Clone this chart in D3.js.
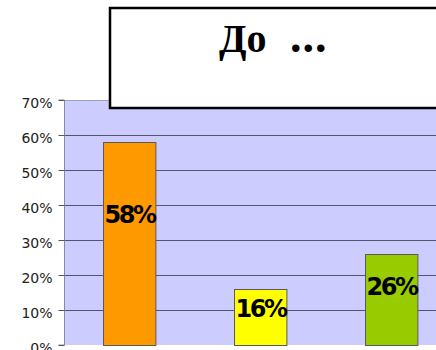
<!DOCTYPE html>
<html>
<head>
<meta charset="utf-8">
<script src="https://cdn.jsdelivr.net/npm/d3@7"></script>
<style>
  html, body { margin: 0; padding: 0; background: #fff; overflow: hidden; }
  svg { display: block; }
</style>
</head>
<body>
<svg id="chart" width="436" height="350"></svg>
<script>
// Share of answers per option
const categories = ["A", "B", "C"];
const values = [58, 16, 26];
const barColors = ["#ff9900", "#ffff00", "#99cc00"];
const tickValues = [0, 10, 20, 30, 40, 50, 60, 70];
const titleWord = "До";
const titleDots = "...";

const svg = d3.select("#chart");

const plotLeft = 64, plotRight = 457, plotTop = 100, plotBottom = 345;

const x = d3.scaleBand()
  .domain(categories)
  .range([plotLeft, plotRight])
  .paddingInner(0.6)
  .paddingOuter(0.3);

const y = d3.scaleLinear()
  .domain([0, 70])
  .range([plotBottom, plotTop]);

// plot background
svg.append("rect")
  .attr("x", plotLeft).attr("y", plotTop)
  .attr("width", plotRight - plotLeft).attr("height", plotBottom - plotTop)
  .attr("fill", "#ccccff");

// gridlines
svg.append("g")
  .selectAll("line")
  .data(tickValues.filter(d => d > 0))
  .join("line")
  .attr("x1", plotLeft).attr("x2", plotRight)
  .attr("y1", d => Math.round(y(d)) + 0.5).attr("y2", d => Math.round(y(d)) + 0.5)
  .attr("stroke", d => d === 70 ? "#a0a0b8" : "#55556a")
  .attr("stroke-width", 1);

// y axis
const yAxis = d3.axisLeft(y)
  .tickValues(tickValues)
  .tickFormat(d => d + "%")
  .tickSize(6)
  .tickPadding(6);

const ax = svg.append("g")
  .attr("transform", `translate(${plotLeft + 0.5},0)`)
  .call(yAxis);
ax.select(".domain").attr("stroke", "#8a8a9a").attr("d", `M-6,${plotTop}H0V${plotBottom}H-6`);
ax.selectAll(".tick line").attr("stroke", "#55556a");
ax.selectAll(".tick text")
  .attr("fill", "#222")
  .attr("dy", "0.5em")
  .style("font-family", "'DejaVu Sans', sans-serif")
  .style("font-size", "14px");

// bars
svg.append("g")
  .selectAll("rect")
  .data(values)
  .join("rect")
  .attr("x", (d, i) => Math.round(x(categories[i])) + 0.5)
  .attr("y", d => Math.round(y(d)) + 0.5)
  .attr("width", x.bandwidth())
  .attr("height", d => y(0) - Math.round(y(d)))
  .attr("fill", (d, i) => barColors[i])
  .attr("stroke", "#5a5a5a")
  .attr("stroke-width", 1);

// value labels
svg.append("g")
  .selectAll("text")
  .data(values)
  .join("text")
  .attr("x", (d, i) => x(categories[i]) + x.bandwidth() / 2)
  .attr("y", d => y(d * 0.64))
  .attr("text-anchor", "middle")
  .attr("dominant-baseline", "central")
  .style("font-family", "'DejaVu Sans', sans-serif")
  .style("font-weight", "bold")
  .style("font-size", "24px")
  .style("letter-spacing", "-2.5px")
  .attr("fill", "#000")
  .text(d => d + "%");

// title box
svg.append("rect")
  .attr("x", 110).attr("y", 8)
  .attr("width", 340).attr("height", 100)
  .attr("fill", "#fff")
  .attr("stroke", "#000")
  .attr("stroke-width", 2.5);

const title = svg.append("text")
  .attr("x", 219).attr("y", 52)
  .style("font-family", "'Liberation Serif', 'Times New Roman', serif")
  .style("font-weight", "bold")
  .style("font-size", "40px")
  .attr("fill", "#000");
title.append("tspan").text(titleWord);
title.append("tspan")
  .attr("x", 290)
  .style("font-size", "46px")
  .style("letter-spacing", "1px")
  .text(titleDots);
</script>
</body>
</html>
